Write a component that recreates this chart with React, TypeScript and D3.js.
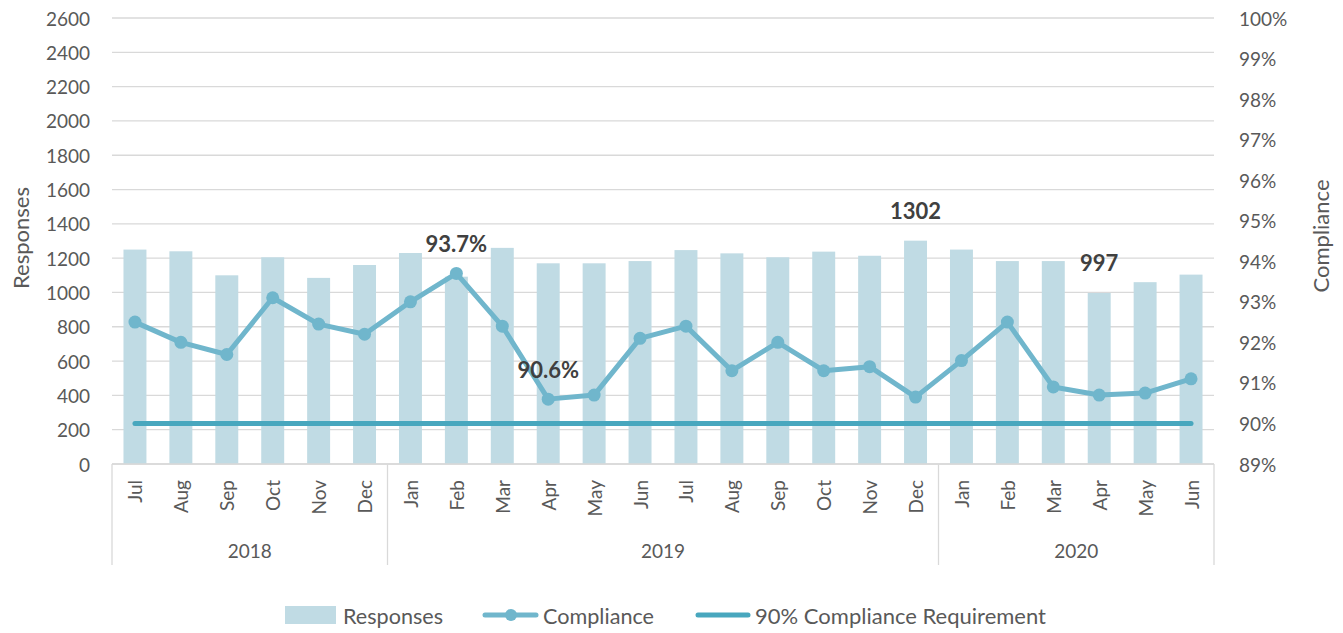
import { useMemo } from "react";
import * as d3 from "d3";

const months = [
  "Jul", "Aug", "Sep", "Oct", "Nov", "Dec",
  "Jan", "Feb", "Mar", "Apr", "May", "Jun", "Jul", "Aug", "Sep", "Oct", "Nov", "Dec",
  "Jan", "Feb", "Mar", "Apr", "May", "Jun",
];
const years = [
  { label: "2018", count: 6 },
  { label: "2019", count: 12 },
  { label: "2020", count: 6 },
];
const responses = [
  1250, 1240, 1100, 1205, 1085, 1160,
  1230, 1092, 1260, 1170, 1170, 1183, 1247, 1228, 1205, 1238, 1214, 1302,
  1250, 1183, 1183, 997, 1060, 1104,
];
const compliance = [
  92.5, 92.0, 91.7, 93.1, 92.45, 92.2,
  93.0, 93.7, 92.4, 90.6, 90.7, 92.1, 92.4, 91.3, 92.0, 91.3, 91.4, 90.65,
  91.55, 92.5, 90.9, 90.7, 90.75, 91.1,
];
const requirement = 90;
const leftTicks = d3.range(0, 2601, 200);
const rightTicks = d3.range(89, 100.1, 1);

// points that carry a data label
const barLabels = [17, 21];
const lineLabels = [7, 9];

const W = 1343;
const H = 633;
const M = { left: 112, right: 1214, top: 18, bottom: 464 };
const FONT = "Lato, 'Open Sans', sans-serif";
const TXT = "#595959";
const BAR = "#c0dbe4";
const LINE = "#70b6cc";
const REQ = "#48a7be";

const App = () => {
  const keys = months.map((_, i) => String(i));
  const band = useMemo(() => d3.scaleBand().domain(keys).range([M.left, M.right]), []);
  const yL = d3.scaleLinear().domain([0, 2600]).range([M.bottom, M.top]);
  const yR = d3.scaleLinear().domain([89, 100]).range([M.bottom, M.top]);
  const cx = (i: number) => band(String(i))! + band.bandwidth() / 2;
  const barW = band.bandwidth() * 0.5;

  const line = d3
    .line<number>()
    .x((_, i) => cx(i))
    .y((d) => yR(d));

  // year group boundaries
  let acc = 0;
  const groups = years.map((g) => {
    const start = acc;
    acc += g.count;
    const x0 = band(String(start))!;
    const x1 = band(String(acc - 1))! + band.bandwidth();
    return { ...g, x0, x1 };
  });

  return (
    <svg width={W} height={H} style={{ display: "block", position: "absolute", left: 0, top: 0 }} fontFamily={FONT}>
      <rect width={W} height={H} fill="white" />
      {leftTicks.map((t) => (
        <g key={t}>
          <line x1={M.left} x2={M.right} y1={yL(t)} y2={yL(t)} stroke="#d9d9d9" strokeWidth={1.3} />
          <text x={90} y={yL(t)} textAnchor="end" dominantBaseline="central" fontSize={19} fill={TXT}>
            {t}
          </text>
        </g>
      ))}
      {rightTicks.map((t) => (
        <text key={t} x={1239} y={yR(t)} dominantBaseline="central" fontSize={19} fill={TXT}>
          {Math.round(t)}%
        </text>
      ))}
      <text transform={`translate(20,${238}) rotate(-90)`} textAnchor="middle" dominantBaseline="central" fontSize={22} fill={TXT}>
        Responses
      </text>
      <text transform={`translate(1320,${236}) rotate(-90)`} textAnchor="middle" dominantBaseline="central" fontSize={22} fill={TXT}>
        Compliance
      </text>

      {responses.map((v, i) => (
        <rect key={i} x={cx(i) - barW / 2} width={barW} y={yL(v)} height={yL(0) - yL(v)} fill={BAR} />
      ))}

      {/* category axis */}
      <line x1={M.left} x2={M.right} y1={M.bottom} y2={M.bottom} stroke="#d9d9d9" strokeWidth={1.3} />
      {[groups[0].x0, ...groups.map((g) => g.x1)].map((gx, i) => (
        <line key={i} x1={gx} x2={gx} y1={M.bottom} y2={565} stroke="#d9d9d9" strokeWidth={1.3} />
      ))}
      {months.map((m, i) => (
        <text
          key={i}
          transform={`translate(${cx(i)},480) rotate(-90)`}
          textAnchor="end"
          dominantBaseline="central"
          fontSize={19}
          fill={TXT}
        >
          {m}
        </text>
      ))}
      {groups.map((g) => (
        <text key={g.label} x={(g.x0 + g.x1) / 2} y={550} textAnchor="middle" dominantBaseline="central" fontSize={19} fill={TXT}>
          {g.label}
        </text>
      ))}

      <line
        x1={cx(0)}
        x2={cx(months.length - 1)}
        y1={yR(requirement)}
        y2={yR(requirement)}
        stroke={REQ}
        strokeWidth={5}
        strokeLinecap="round"
      />
      <path d={line(compliance) ?? ""} fill="none" stroke={LINE} strokeWidth={5} strokeLinejoin="round" />
      {compliance.map((v, i) => (
        <circle key={i} cx={cx(i)} cy={yR(v)} r={6.5} fill={LINE} />
      ))}

      {barLabels.map((i) => (
        <text key={i} x={cx(i)} y={yL(responses[i]) - 30} textAnchor="middle" dominantBaseline="central" fontSize={22} fontWeight="bold" fill="#404040">
          {responses[i]}
        </text>
      ))}
      {lineLabels.map((i) => (
        <text key={i} x={cx(i)} y={yR(compliance[i]) - 30} textAnchor="middle" dominantBaseline="central" fontSize={22} fontWeight="bold" fill="#404040">
          {compliance[i].toFixed(1)}%
        </text>
      ))}

      {/* legend */}
      <g fontSize={21} fill={TXT}>
        <rect x={285} y={606} width={51} height={18} fill={BAR} />
        <text x={343} y={615} dominantBaseline="central" textLength={100} lengthAdjust="spacingAndGlyphs">Responses</text>
        <line x1={485} x2={536} y1={615} y2={615} stroke={LINE} strokeWidth={5} strokeLinecap="round" />
        <circle cx={511} cy={615} r={6} fill={LINE} />
        <text x={543} y={615} dominantBaseline="central" textLength={111} lengthAdjust="spacingAndGlyphs">Compliance</text>
        <line x1={698} x2={748} y1={615} y2={615} stroke={REQ} strokeWidth={5} strokeLinecap="round" />
        <text x={755} y={615} dominantBaseline="central" textLength={291} lengthAdjust="spacingAndGlyphs">90% Compliance Requirement</text>
      </g>
    </svg>
  );
};

export default App;
